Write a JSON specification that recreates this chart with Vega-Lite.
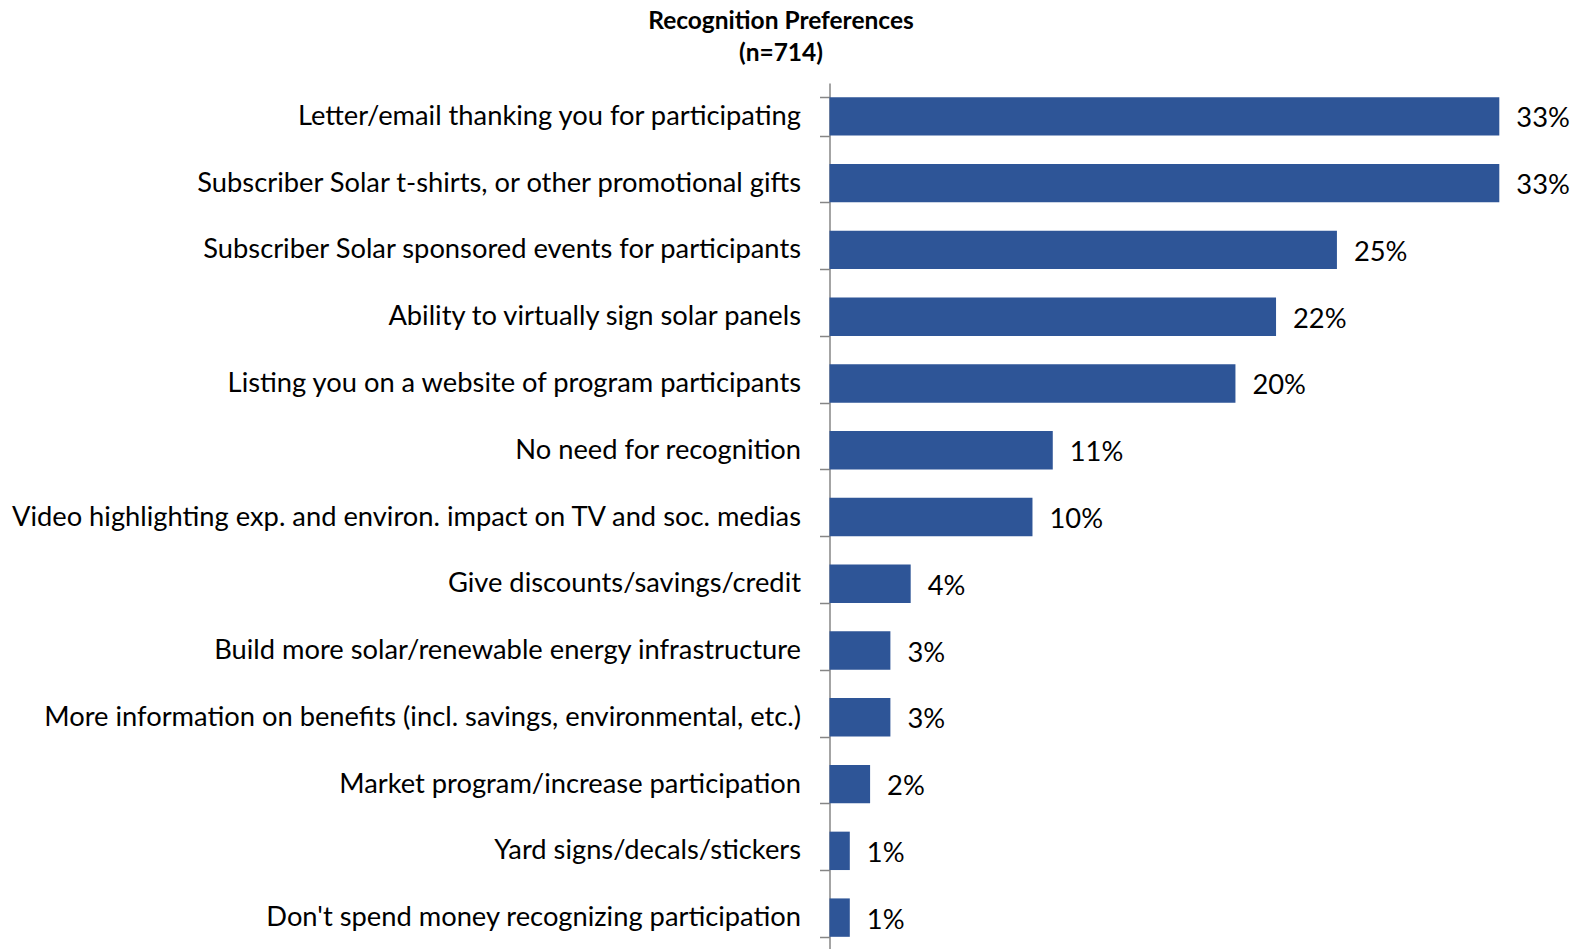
{
  "$schema": "https://vega.github.io/schema/vega-lite/v6.json",
  "autosize": "none",
  "padding": {"left": 829.5, "top": 83, "right": 0, "bottom": 0},
  "width": 751,
  "height": 868,
  "background": "white",
  "title": {
    "text": ["Recognition Preferences", "(n=714)"],
    "font": "Lato",
    "fontSize": 24.5,
    "fontWeight": "bold",
    "color": "#000000",
    "anchor": "middle",
    "frame": "group",
    "dx": -424,
    "offset": 3,
    "lineHeight": 32
  },
  "config": {
    "view": {"stroke": null},
    "font": "Lato"
  },
  "data": {
    "values": [
      {"item": "Letter/email thanking you for participating", "pct": 33, "label": "33%"},
      {"item": "Subscriber Solar t-shirts, or other promotional gifts", "pct": 33, "label": "33%"},
      {"item": "Subscriber Solar sponsored events for participants", "pct": 25, "label": "25%"},
      {"item": "Ability to virtually sign solar panels", "pct": 22, "label": "22%"},
      {"item": "Listing you on a website of program participants", "pct": 20, "label": "20%"},
      {"item": "No need for recognition", "pct": 11, "label": "11%"},
      {"item": "Video highlighting exp. and environ. impact on TV and soc. medias", "pct": 10, "label": "10%"},
      {"item": "Give discounts/savings/credit", "pct": 4, "label": "4%"},
      {"item": "Build more solar/renewable energy infrastructure", "pct": 3, "label": "3%"},
      {"item": "More information on benefits (incl. savings, environmental, etc.)", "pct": 3, "label": "3%"},
      {"item": "Market program/increase participation", "pct": 2, "label": "2%"},
      {"item": "Yard signs/decals/stickers", "pct": 1, "label": "1%"},
      {"item": "Don't spend money recognizing participation", "pct": 1, "label": "1%"}
    ]
  },
  "encoding": {
    "y": {
      "field": "item",
      "type": "nominal",
      "sort": null,
      "scale": {"paddingInner": 0.425, "paddingOuter": 0.2125},
      "axis": {
        "title": null,
        "tickBand": "extent",
        "tickSize": 10,
        "tickColor": "#868686",
        "tickWidth": 1.5,
        "domainColor": "#868686",
        "domainWidth": 1.5,
        "labelFont": "Lato",
        "labelFontSize": 27.3,
        "labelColor": "#000000",
        "labelPadding": 19,
        "labelLimit": 0,
        "grid": false
      }
    },
    "x": {
      "field": "pct",
      "type": "quantitative",
      "scale": {"domain": [0, 37], "nice": false},
      "axis": null
    }
  },
  "layer": [
    {"mark": {"type": "bar", "color": "#2E5597"}},
    {
      "mark": {"type": "text", "align": "left", "baseline": "middle", "dx": 17, "dy": 3, "fontSize": 27.3, "font": "Lato", "color": "#000000"},
      "encoding": {"text": {"field": "label", "type": "nominal"}}
    }
  ]
}
